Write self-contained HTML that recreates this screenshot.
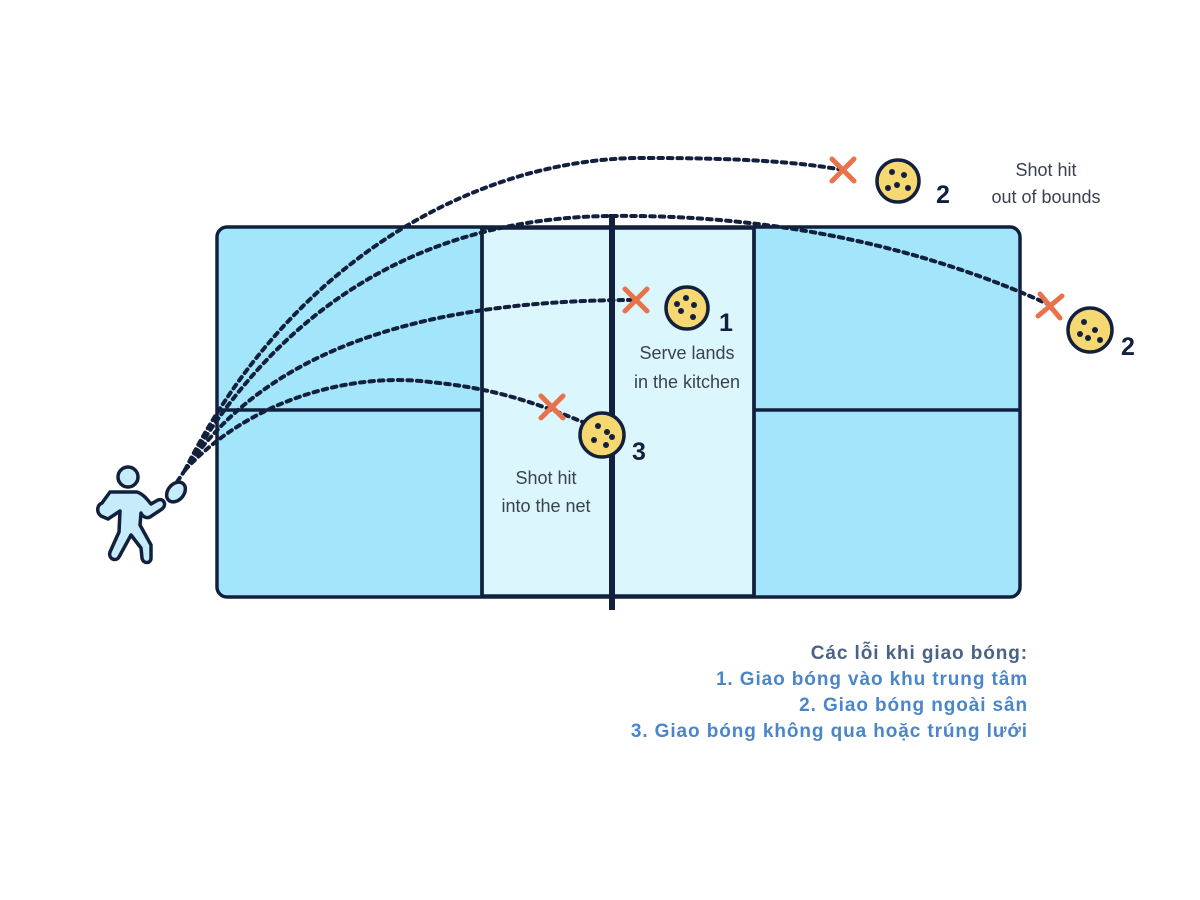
<!DOCTYPE html>
<html><head><meta charset="utf-8"><style>
html,body{margin:0;padding:0;background:#fff;width:1200px;height:900px;overflow:hidden}
.t{position:absolute;right:172px;font-family:"Liberation Sans","DejaVu Sans",sans-serif;font-weight:bold;font-size:19px;letter-spacing:0.9px;text-align:right;white-space:nowrap}
</style></head><body>
<svg width="1200" height="900" style="position:absolute;left:0;top:0" font-family="Liberation Sans, DejaVu Sans, sans-serif">
<g stroke="#13203d" stroke-width="3.5">
<rect x="217" y="227" width="803" height="370" rx="10" fill="#a3e6fb"/>
<rect x="482" y="228" width="272" height="368" fill="#dcf6fd"/>
<line x1="217" y1="410" x2="482" y2="410"/>
<line x1="754" y1="410" x2="1020" y2="410"/>
<line x1="482" y1="227" x2="482" y2="597"/>
<line x1="754" y1="227" x2="754" y2="597"/>
</g>
<line x1="612" y1="214" x2="612" y2="610" stroke="#13203d" stroke-width="6"/>
<g fill="none" stroke="#13203d" stroke-width="4" stroke-dasharray="4.5 5" stroke-linecap="round">
<path d="M185,470 C290,260 480,155 650,158 C740,158 800,162 843,170"/>
<path d="M185,470 C290,290 440,218 610,216 C780,214 930,250 1050,305"/>
<path d="M185,470 C260,360 400,300 636,300"/>
<path d="M185,470 C250,400 350,372 430,382 C490,388 530,400 590,425"/>
<path d="M185,470 L175,485"/>
</g>
<g stroke="#e8734a" stroke-width="5" stroke-linecap="round">
<path d="M832,159 L854,181 M854,159 L832,181"/>
<path d="M1040,294 L1060,318 M1062,296 L1038,316"/>
<path d="M625,289 L647,311 M647,289 L625,311"/>
<path d="M541,396 L563,418 M563,396 L541,418"/>
</g>
<g stroke="#13203d" stroke-width="3.5" fill="#f6d873">
<circle cx="898" cy="181" r="21"/>
<circle cx="1090" cy="330" r="22"/>
<circle cx="687" cy="308" r="21"/>
<circle cx="602" cy="435" r="22"/>
</g>
<g fill="#13203d">
<circle cx="892" cy="172" r="3"/><circle cx="904" cy="175" r="3"/><circle cx="897" cy="185" r="3"/><circle cx="908" cy="188" r="3"/><circle cx="888" cy="188" r="3"/>
<circle cx="1084" cy="322" r="3"/><circle cx="1095" cy="330" r="3"/><circle cx="1088" cy="338" r="3"/><circle cx="1100" cy="340" r="3"/><circle cx="1080" cy="334" r="3"/>
<circle cx="686" cy="298" r="3"/><circle cx="694" cy="305" r="3"/><circle cx="681" cy="311" r="3"/><circle cx="693" cy="317" r="3"/><circle cx="677" cy="304" r="3"/>
<circle cx="598" cy="426" r="3"/><circle cx="607" cy="432" r="3"/><circle cx="594" cy="440" r="3"/><circle cx="606" cy="445" r="3"/><circle cx="612" cy="437" r="3"/>
</g>
<g fill="#13203d" font-weight="bold" font-size="25">
<text x="936" y="203">2</text><text x="1121" y="355">2</text><text x="719" y="331">1</text><text x="632" y="460">3</text>
</g>
<g fill="#3a4150" font-size="18" text-anchor="middle">
<text x="1046" y="176">Shot hit</text><text x="1046" y="203">out of bounds</text>
<text x="687" y="359">Serve lands</text><text x="687" y="388">in the kitchen</text>
<text x="546" y="484">Shot hit</text><text x="546" y="512">into the net</text>
</g>
<g stroke="#13203d" stroke-width="3.5" fill="#c6ebfb" stroke-linejoin="round" stroke-linecap="round">
<circle cx="128" cy="477" r="10"/>
<path d="M110,492 L137,492 C143,494 147,499 151,504 L158,500 C164,498 167,505 162,509 L150,517 C146,519 142,516 141,513 L140,525 L151,545 L151,558 C151,564 143,564 142,558 L141,548 L131,535 L119,557 C116,562 108,559 110,552 L119,532 L120,511 L108,519 L101,516 C96,512 97,505 102,503 Z"/>
<ellipse cx="176" cy="492" rx="8" ry="11" transform="rotate(40 176 492)"/>
</g>
</svg>
<div class="t" style="top:643px;color:#4a6384">Các lỗi khi giao bóng:</div>
<div class="t" style="top:669px;color:#4a86c8">1. Giao bóng vào khu trung tâm</div>
<div class="t" style="top:695px;color:#4a86c8">2. Giao bóng ngoài sân</div>
<div class="t" style="top:721px;color:#4a86c8;height:22px;overflow:hidden">3. Giao bóng không qua hoặc trúng lưới</div>
</body></html>
